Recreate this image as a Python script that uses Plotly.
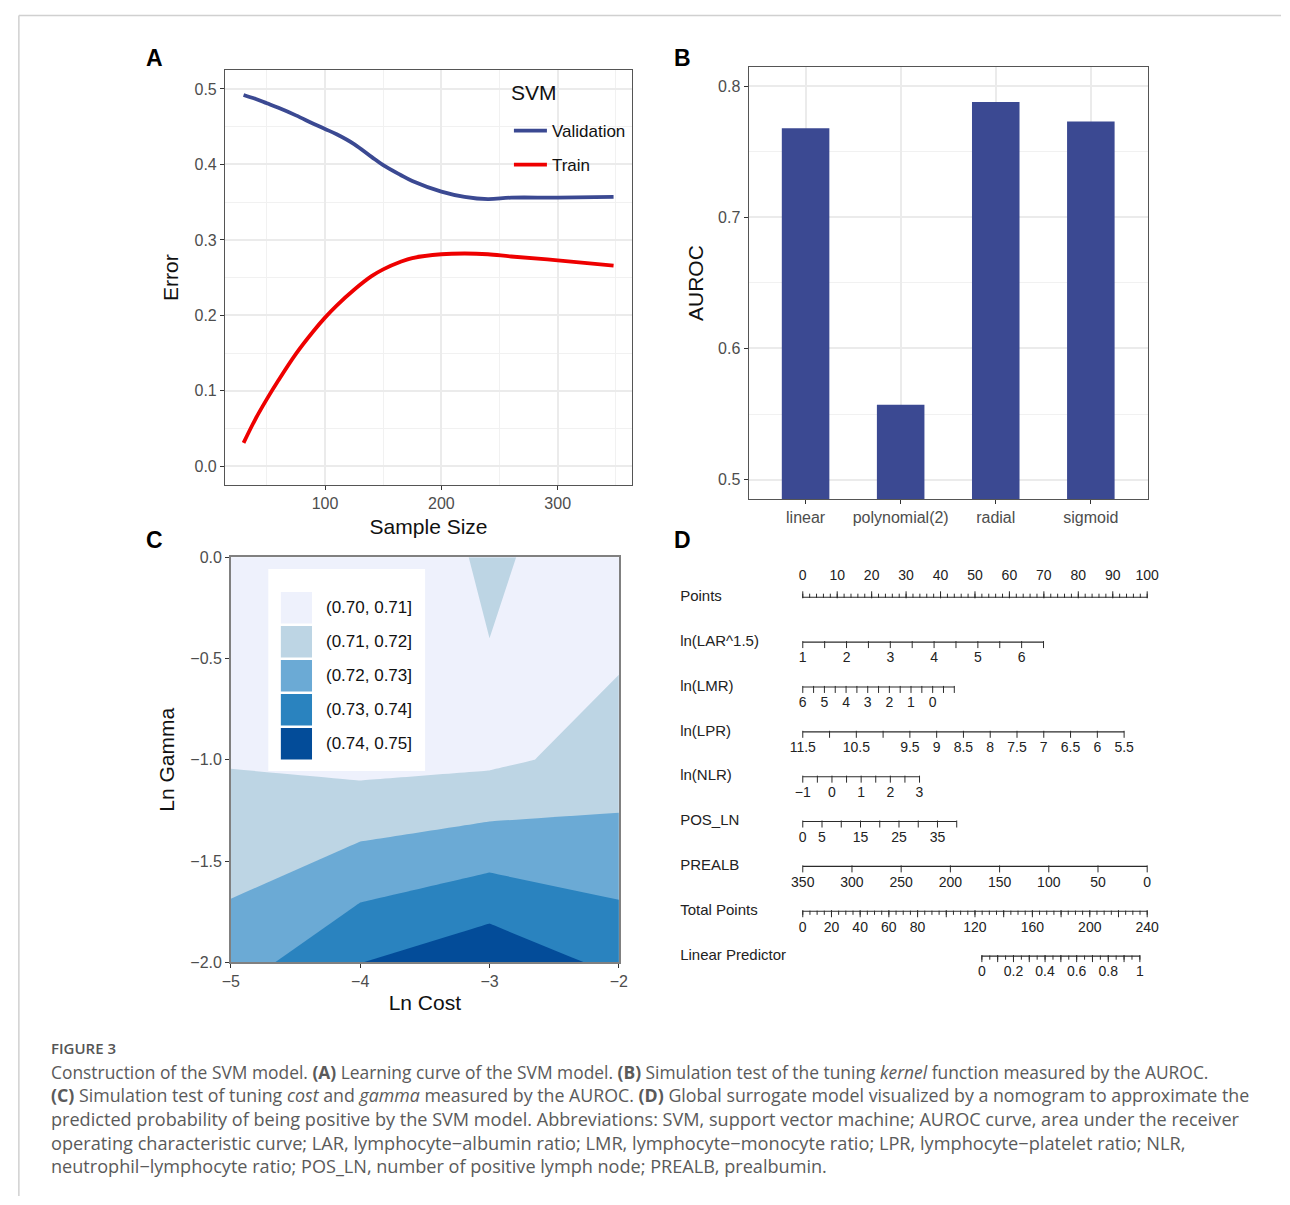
import numpy as np
import plotly.graph_objects as go

W, H = 1290, 1205


def px(x):
    return x / W


def py(y):
    return 1 - y / H


# ---------------- Panel A: learning curve ----------------
sample_size = [30, 40, 50, 60, 75, 90, 100, 110, 125, 140, 150, 165, 175, 200, 220, 240, 260, 300, 348]
val_error = [0.492, 0.487, 0.481, 0.475, 0.465, 0.454, 0.447, 0.440, 0.427, 0.410, 0.399, 0.386, 0.378,
             0.364, 0.357, 0.354, 0.356, 0.356, 0.357]
train_error = [0.031, 0.062, 0.089, 0.114, 0.149, 0.179, 0.197, 0.213, 0.234, 0.252, 0.261, 0.271, 0.276,
               0.281, 0.282, 0.281, 0.278, 0.273, 0.266]

# ---------------- Panel B: kernel AUROC ----------------
kernels = ["linear", "polynomial(2)", "radial", "sigmoid"]
kernel_auroc = [0.768, 0.557, 0.788, 0.773]

# ---------------- Panel C: cost / gamma grid ----------------
ln_cost = [-5, -4, -3, -2]
ln_gamma = [-2, -1, 0]
auroc_grid = [
    [0.7249, 0.7398, 0.7476, 0.7372],
    [0.7093, 0.7066, 0.7079, 0.7139],
    [0.7050, 0.7027, 0.7114, 0.7046],
]
bin_labels = ["(0.70, 0.71]", "(0.71, 0.72]", "(0.72, 0.73]", "(0.73, 0.74]", "(0.74, 0.75]"]
bin_colors = ["#EEF1FC", "#BDD5E4", "#6BAAD5", "#2A83BF", "#034C99"]

# ---------------- Panel D: nomogram ----------------
points_range, points_step, points_labels = [0, 100], 2, list(range(0, 101, 10))
lar_range, lar_pts, lar_step, lar_labels = [1, 6.5], [0, 69.9], 0.5, [1, 2, 3, 4, 5, 6]
lmr_range, lmr_pts, lmr_step, lmr_labels = [6, -1], [0, 44.0], 0.5, [6, 5, 4, 3, 2, 1, 0]
lpr_range, lpr_pts, lpr_step, lpr_labels = [11.5, 5.5], [0, 93.3], 0.5, [11.5, 10.5, 9.5, 9, 8.5, 8, 7.5, 7, 6.5, 6, 5.5]
nlr_range, nlr_pts, nlr_step, nlr_labels = [-1, 3], [0, 33.9], 0.5, [-1, 0, 1, 2, 3]
posln_range, posln_pts, posln_step, posln_labels = [0, 40], [0, 44.7], 5, [0, 5, 15, 25, 35]
prealb_range, prealb_pts, prealb_step, prealb_labels = [350, 0], [0, 100], 50, [350, 300, 250, 200, 150, 100, 50, 0]
total_range, total_step, total_labels = [0, 240], 5, [0, 20, 40, 60, 80, 120, 160, 200, 240]
lp_range, lp_total, lp_step, lp_labels = [0, 1], [124.8, 234.9], 0.05, [0, 0.2, 0.4, 0.6, 0.8, 1]
row_names = ["Points", "ln(LAR^1.5)", "ln(LMR)", "ln(LPR)", "ln(NLR)", "POS_LN", "PREALB",
             "Total Points", "Linear Predictor"]

FONT = "Liberation Sans, Arial, sans-serif"
TICKGRAY = "#4D4D4D"

fig = go.Figure()

# Panel A traces
fig.add_trace(go.Scatter(x=sample_size, y=val_error, mode="lines", name="Validation",
                         line=dict(color="#3B4992", width=3.8, shape="spline", smoothing=1.0),
                         xaxis="x", yaxis="y", legendgroup="v"))
fig.add_trace(go.Scatter(x=sample_size, y=train_error, mode="lines", name="Train",
                         line=dict(color="#EE0000", width=3.8, shape="spline", smoothing=1.0),
                         xaxis="x", yaxis="y", legendgroup="t"))

# Panel B
fig.add_trace(go.Bar(x=kernels, y=kernel_auroc, width=0.5, marker=dict(color="#3B4992", line=dict(width=0)),
                     xaxis="x2", yaxis="y2", showlegend=False))

# Panel C
cscale = [[0, bin_colors[0]], [0.3, bin_colors[0]], [0.3, bin_colors[1]], [0.5, bin_colors[1]],
          [0.5, bin_colors[2]], [0.7, bin_colors[2]], [0.7, bin_colors[3]], [0.9, bin_colors[3]],
          [0.9, bin_colors[4]], [1, bin_colors[4]]]
fig.add_trace(go.Contour(x=ln_cost, y=ln_gamma, z=auroc_grid, autocontour=False,
                         contours=dict(start=0.70, end=0.74, size=0.01, coloring="fill", showlines=False),
                         line=dict(width=0, smoothing=0), colorscale=cscale, showscale=False,
                         xaxis="x3", yaxis="y3", showlegend=False, hoverinfo="skip"))


# Panel D nomogram
def lin(v, v0, v1, p0, p1):
    return p0 + (np.asarray(v, dtype=float) - v0) * (p1 - p0) / (v1 - v0)


def fmt(v):
    return f"{v:g}".replace("-", "\u2212")


ROW_GAP = 45.5
LINE_COLOR = "#2b2b2b"


def add_row(i, pts_start, pts_end, tick_pts, label_pts, labels, up=False, major_pts=None):
    yrow = i * ROW_GAP
    fig.add_trace(go.Scatter(x=[pts_start, pts_end], y=[yrow, yrow], mode="lines",
                             line=dict(color=LINE_COLOR, width=1.1), xaxis="x4", yaxis="y4",
                             showlegend=False, hoverinfo="skip"))
    sign = -1 if up else 1
    tick_len = 3 if major_pts is not None else 5
    fig.add_trace(go.Scatter(x=tick_pts, y=[yrow + sign * tick_len / 2] * len(tick_pts), mode="markers",
                             marker=dict(symbol="line-ns", size=tick_len, line=dict(width=1, color=LINE_COLOR)),
                             xaxis="x4", yaxis="y4", showlegend=False, hoverinfo="skip"))
    if major_pts is not None:
        fig.add_trace(go.Scatter(x=major_pts, y=[yrow + sign * 2.5] * len(major_pts), mode="markers",
                                 marker=dict(symbol="line-ns", size=5, line=dict(width=1, color=LINE_COLOR)),
                                 xaxis="x4", yaxis="y4", showlegend=False, hoverinfo="skip"))
    ly = yrow - 21 if up else yrow + 17
    fig.add_trace(go.Scatter(x=label_pts, y=[ly] * len(label_pts), mode="text",
                             text=[fmt(v) for v in labels], textposition="middle center",
                             textfont=dict(size=14, color="#222", family=FONT),
                             xaxis="x4", yaxis="y4", showlegend=False, hoverinfo="skip", cliponaxis=False))
    fig.add_trace(go.Scatter(x=[-35.6], y=[yrow], mode="text", text=[row_names[i]],
                             textposition="middle right", textfont=dict(size=15, color="#222", family=FONT),
                             xaxis="x4", yaxis="y4", showlegend=False, hoverinfo="skip", cliponaxis=False))


# Points row
pts_ticks = np.arange(points_range[0], points_range[1] + 1e-9, points_step)
add_row(0, 0, 100, pts_ticks, points_labels, points_labels, up=True, major_pts=points_labels)

for i, (rng, prg, step, labs) in enumerate([
        (lar_range, lar_pts, lar_step, lar_labels),
        (lmr_range, lmr_pts, lmr_step, lmr_labels),
        (lpr_range, lpr_pts, lpr_step, lpr_labels),
        (nlr_range, nlr_pts, nlr_step, nlr_labels),
        (posln_range, posln_pts, posln_step, posln_labels),
        (prealb_range, prealb_pts, prealb_step, prealb_labels)], start=1):
    lo, hi = min(rng), max(rng)
    vals = np.arange(lo, hi + 1e-9, step)
    add_row(i, prg[0], prg[1], lin(vals, rng[0], rng[1], prg[0], prg[1]),
            lin(labs, rng[0], rng[1], prg[0], prg[1]), labs)

# Total points (0..240 mapped onto 0..100 point axis)
tot_vals = np.arange(total_range[0], total_range[1] + 1e-9, total_step)
add_row(7, 0, 100, lin(tot_vals, 0, 240, 0, 100), lin(total_labels, 0, 240, 0, 100), total_labels,
        major_pts=lin(np.arange(0, 241, 20), 0, 240, 0, 100))

# Linear predictor (mapped through total points)
lp_vals = np.arange(lp_range[0], lp_range[1] + 1e-9, lp_step)
lp_to_pts = lambda v: lin(lin(v, lp_range[0], lp_range[1], lp_total[0], lp_total[1]), 0, 240, 0, 100)
add_row(8, float(lp_to_pts(0)), float(lp_to_pts(1)), lp_to_pts(lp_vals), lp_to_pts(lp_labels), lp_labels,
        major_pts=lp_to_pts(np.arange(0, 1.0001, 0.1)))

# ---------------- Layout ----------------
tick_common = dict(ticks="outside", ticklen=4, tickwidth=1, tickcolor="#333",
                   tickfont=dict(size=16, color=TICKGRAY, family=FONT), zeroline=False)
box = dict(showline=True, mirror=True, linecolor="#555", linewidth=1)
grid = dict(showgrid=True, gridcolor="#EBEBEB", gridwidth=1.5)
minor_grid = dict(showgrid=True, gridcolor="#F1F1F1", gridwidth=1)
title_font = dict(size=21, color="#111", family=FONT)

layout = dict(
    width=W, height=H, margin=dict(l=0, r=0, t=0, b=0),
    paper_bgcolor="white", plot_bgcolor="white",
    font=dict(family=FONT),
    # Panel A
    xaxis=dict(domain=[px(219), px(632)], range=[14, 364], tickvals=[100, 200, 300], anchor="y",
               minor=dict(tickvals=[50, 150, 250, 350], **minor_grid),
               title=dict(text="Sample Size", font=title_font, standoff=7), **tick_common, **box, **grid),
    yaxis=dict(domain=[py(484), py(63)], range=[-0.025, 0.525], dtick=0.1, tick0=0, tickformat=".1f",
               anchor="x",
               minor=dict(tickvals=[0.05, 0.15, 0.25, 0.35, 0.45], **minor_grid),
               title=dict(text="Error", font=title_font, standoff=10), **tick_common, **box, **grid),
    # Panel B
    xaxis2=dict(domain=[px(750), px(1155)], range=[-0.6, 3.6], anchor="y2", type="category",
                **tick_common, **box, **grid),
    yaxis2=dict(domain=[py(498), py(60)], range=[0.4852, 0.8145], dtick=0.1, tick0=0.5, tickformat=".1f",
                anchor="x2",
                minor=dict(tickvals=[0.55, 0.65, 0.75], **minor_grid),
                title=dict(text="AUROC", font=title_font, standoff=8), **tick_common, **box, **grid),
    # Panel C
    xaxis3=dict(domain=[px(225), px(618.5)], range=[-5, -2], dtick=1, tick0=-5, anchor="y3",
                showgrid=False, showline=True, mirror=True, linecolor="#808080", linewidth=1.5,
                title=dict(text="Ln Cost", font=title_font, standoff=6), **tick_common),
    yaxis3=dict(domain=[py(968), py(557)], range=[-2, 0], dtick=0.5, tick0=0, tickformat=".1f", anchor="x3",
                showgrid=False, showline=True, mirror=True, linecolor="#808080", linewidth=1.5,
                title=dict(text="Ln Gamma", font=title_font, standoff=10), **tick_common),
    # Panel D
    xaxis4=dict(domain=[px(660), px(1200)], range=[(660 - 805) / 3.493, (1200 - 805) / 3.493],
                anchor="y4", visible=False),
    yaxis4=dict(domain=[py(1000), py(555)], range=[1000 - 597.7, 555 - 597.7], anchor="x4", visible=False),
    legend=dict(x=px(507), y=py(106.5), xanchor="left", yanchor="top", bgcolor="rgba(0,0,0,0)",
                font=dict(size=17, color="#111", family=FONT), tracegroupgap=9, itemwidth=33),
    showlegend=True,
)
fig.update_layout(**layout)

shapes = []
# outer frame (page border)
shapes.append(dict(type="line", xref="paper", yref="paper", x0=px(10), x1=1, y0=py(7.5), y1=py(7.5),
                   line=dict(color="#D0D0D0", width=1.5)))
shapes.append(dict(type="line", xref="paper", yref="paper", x0=px(10), x1=px(10), y0=py(7.5), y1=0,
                   line=dict(color="#D0D0D0", width=1.5)))
# Panel C legend box
shapes.append(dict(type="rect", xref="paper", yref="paper", x0=px(263), x1=px(422), y0=py(774), y1=py(569),
                   fillcolor="white", line=dict(width=0), layer="above"))
annotations = []
# Panel A legend title
annotations.append(dict(text="SVM", xref="paper", yref="paper", x=px(507), y=py(86), xanchor="left",
                        yanchor="middle", showarrow=False, font=dict(size=21, color="#111", family=FONT)))
for k, (lab, col) in enumerate(zip(bin_labels, bin_colors)):
    top = 592.3 + 34.5 * k
    shapes.append(dict(type="rect", xref="paper", yref="paper", x0=px(275.7), x1=px(307.3),
                       y0=py(top + 32), y1=py(top), fillcolor=col, line=dict(width=0), layer="above"))
    annotations.append(dict(text=lab, xref="paper", yref="paper", x=px(319), y=py(top + 16), xanchor="left",
                            yanchor="middle", showarrow=False, font=dict(size=17, color="#111", family=FONT)))

# panel letters
for letter, (lx, ly) in zip("ABCD", [(148, 51), (683, 51), (148, 540), (683, 540)]):
    annotations.append(dict(text=f"<b>{letter}</b>", xref="paper", yref="paper", x=px(lx), y=py(ly),
                            xanchor="center", yanchor="middle", showarrow=False,
                            font=dict(size=23, color="#000", family=FONT)))

# caption
CAP_FONT = "Open Sans, Noto Sans, sans-serif"
annotations.append(dict(text="FIGURE 3", xref="paper", yref="paper", x=px(41), y=py(1055), xanchor="left",
                        yanchor="middle", showarrow=False,
                        font=dict(size=15, color="#555", family=CAP_FONT, weight=600)))
caption_lines = [
    "Construction of the SVM model. <b>(A)</b> Learning curve of the SVM model. <b>(B)</b> Simulation test of the tuning <i>kernel</i> function measured by the AUROC.",
    "<b>(C)</b> Simulation test of tuning <i>cost</i> and <i>gamma</i> measured by the AUROC. <b>(D)</b> Global surrogate model visualized by a nomogram to approximate the",
    "predicted probability of being positive by the SVM model. Abbreviations: SVM, support vector machine; AUROC curve, area under the receiver",
    "operating characteristic curve; LAR, lymphocyte\u2212albumin ratio; LMR, lymphocyte\u2212monocyte ratio; LPR, lymphocyte\u2212platelet ratio; NLR,",
    "neutrophil\u2212lymphocyte ratio; POS_LN, number of positive lymph node; PREALB, prealbumin.",
]
caption_sizes = [17.4, 17.8, 18.1, 18.2, 18.1]
for j, (line, fs) in enumerate(zip(caption_lines, caption_sizes)):
    annotations.append(dict(text=line, xref="paper", yref="paper", x=px(41), y=py(1079 + 24 * j),
                            xanchor="left", yanchor="middle", showarrow=False, align="left",
                            font=dict(size=fs, color="#5A5A5A", family=CAP_FONT)))

fig.update_layout(shapes=shapes, annotations=annotations)

fig.write_html("out.html", config={"displayModeBar": False},
               post_script="document.body.style.margin='0';")
